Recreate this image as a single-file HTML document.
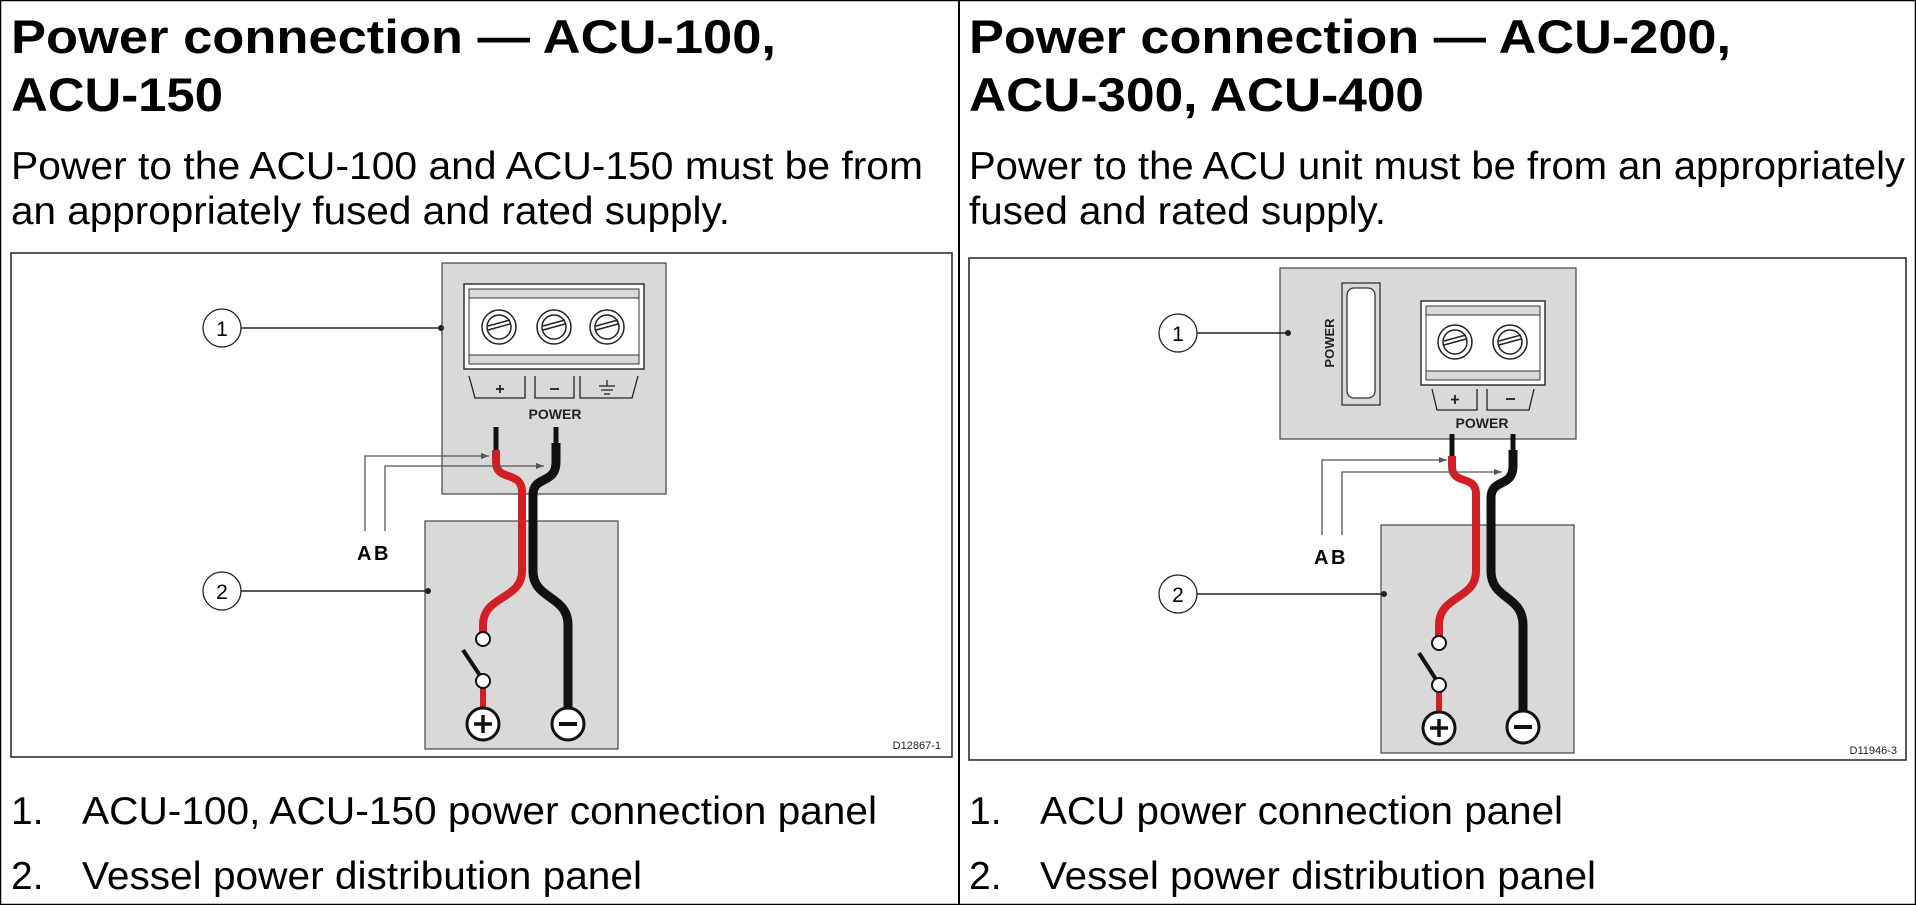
<!DOCTYPE html>
<html><head><meta charset="utf-8"><style>
html,body{margin:0;padding:0;background:#fff;}
svg{display:block;}
text{font-family:"Liberation Sans",Arial,sans-serif;}
</style></head><body>
<svg width="1916" height="905" viewBox="0 0 1916 905" xmlns="http://www.w3.org/2000/svg">
<defs>
<marker id="ar" markerWidth="8" markerHeight="6" refX="8" refY="3" orient="auto" markerUnits="userSpaceOnUse"><path d="M0,0 L8,3 L0,6 z" fill="#555"/></marker>
</defs>
<rect x="0.5" y="0.5" width="1915" height="904" fill="#fff" stroke="#000" stroke-width="1.5"/>
<line x1="959" y1="0" x2="959" y2="905" stroke="#000" stroke-width="2"/>

<!-- LEFT TEXT -->
<g fill="#000">
<text x="11" y="53" font-size="47" font-weight="bold" textLength="765" lengthAdjust="spacingAndGlyphs">Power connection — ACU-100,</text>
<text x="11" y="111" font-size="47" font-weight="bold" textLength="212" lengthAdjust="spacingAndGlyphs">ACU-150</text>
<text x="11" y="179" font-size="39" textLength="912" lengthAdjust="spacingAndGlyphs">Power to the ACU-100 and ACU-150 must be from</text>
<text x="11" y="224" font-size="39" textLength="719" lengthAdjust="spacingAndGlyphs">an appropriately fused and rated supply.</text>
<text x="11" y="824" font-size="39">1.</text>
<text x="82" y="824" font-size="39" textLength="795" lengthAdjust="spacingAndGlyphs">ACU-100, ACU-150 power connection panel</text>
<text x="11" y="889" font-size="39">2.</text>
<text x="82" y="889" font-size="39" textLength="560" lengthAdjust="spacingAndGlyphs">Vessel power distribution panel</text>
</g>

<!-- LEFT DIAGRAM -->
<rect x="11" y="253" width="941" height="504" fill="#fff" stroke="#222" stroke-width="1.5"/>
<rect x="442" y="263" width="224" height="231" fill="#d9d9d9" stroke="#444" stroke-width="1.2"/>
<rect x="464" y="284" width="180" height="85" fill="#fff" stroke="#333" stroke-width="1.5"/>
<rect x="469" y="289" width="170" height="75" fill="#d9d9d9" stroke="#333" stroke-width="1"/>
<rect x="469" y="298" width="170" height="57" fill="#fff" stroke="#333"/>
<g stroke="#222" stroke-width="1.5" fill="#fff">
<circle cx="499" cy="327" r="17"/><circle cx="499" cy="327" r="12"/>
<circle cx="554" cy="327" r="17"/><circle cx="554" cy="327" r="12"/>
<circle cx="607" cy="327" r="17"/><circle cx="607" cy="327" r="12"/>
<line x1="488" y1="330" x2="510" y2="324"/><line x1="488" y1="326" x2="510" y2="320"/>
<line x1="543" y1="330" x2="565" y2="324"/><line x1="543" y1="326" x2="565" y2="320"/>
<line x1="596" y1="330" x2="618" y2="324"/><line x1="596" y1="326" x2="618" y2="320"/>
</g>
<g stroke="#222" stroke-width="1.3" fill="none">
<polyline points="469,376 475,398 525,398 525,376"/>
<polyline points="535,376 535,398 574,398 574,376"/>
<polyline points="580,376 580,398 632,398 638,376"/>
<line x1="500" y1="385" x2="500" y2="393" stroke-width="1.8"/><line x1="496" y1="389" x2="504" y2="389" stroke-width="1.8"/>
<line x1="550" y1="389" x2="559" y2="389" stroke-width="1.8"/>
<line x1="607" y1="380" x2="607" y2="386"/><line x1="599" y1="386" x2="615" y2="386"/><line x1="601" y1="390" x2="613" y2="390"/><line x1="604" y1="394" x2="610" y2="394"/>
</g>
<text x="555" y="419" font-size="14" font-weight="bold" text-anchor="middle" fill="#222">POWER</text>
<rect x="425" y="521" width="193" height="228" fill="#d9d9d9" stroke="#444" stroke-width="1.2"/>
<circle cx="222" cy="328" r="19" fill="#fff" stroke="#222" stroke-width="1.3"/>
<text x="222" y="336" font-size="21" text-anchor="middle">1</text>
<line x1="241" y1="328" x2="441" y2="328" stroke="#222" stroke-width="1.5"/><circle cx="441" cy="328" r="3" fill="#222"/>
<circle cx="222" cy="591" r="19" fill="#fff" stroke="#222" stroke-width="1.3"/>
<text x="222" y="599" font-size="21" text-anchor="middle">2</text>
<line x1="241" y1="591" x2="428" y2="591" stroke="#222" stroke-width="1.5"/><circle cx="428" cy="591" r="3" fill="#222"/>
<line x1="496" y1="427" x2="496" y2="451" stroke="#111" stroke-width="5"/>
<path d="M496 450 L496 462 C496 482 522 470 522 492 L522 571 C522 600 483 595 483 625 L483 639" fill="none" stroke="#d21f26" stroke-width="8"/>
<line x1="556" y1="427" x2="556" y2="445" stroke="#111" stroke-width="5"/>
<path d="M556 443 L556 462 C556 485 533 475 533 495 L533 571 C533 600 568 595 568 625 L568 710" fill="none" stroke="#111" stroke-width="9"/>
<line x1="483" y1="688" x2="483" y2="710" stroke="#d21f26" stroke-width="6"/>
<line x1="463" y1="650" x2="481" y2="677" stroke="#111" stroke-width="4"/>
<circle cx="483" cy="639" r="7" fill="#fff" stroke="#111" stroke-width="2"/>
<circle cx="483" cy="681" r="7" fill="#fff" stroke="#111" stroke-width="2"/>
<circle cx="483" cy="724" r="16" fill="#fff" stroke="#111" stroke-width="3"/>
<path d="M474 724 H492 M483 715 V733" stroke="#111" stroke-width="3.5"/>
<circle cx="568" cy="724" r="16" fill="#fff" stroke="#111" stroke-width="3"/>
<path d="M559 724 H577" stroke="#111" stroke-width="4"/>
<polyline points="365,531 365,456 489,456" fill="none" stroke="#555" stroke-width="1.3" marker-end="url(#ar)"/>
<polyline points="385,531 385,466 544,466" fill="none" stroke="#555" stroke-width="1.3" marker-end="url(#ar)"/>
<text x="357" y="560" font-size="20" font-weight="bold">A</text>
<text x="374" y="560" font-size="20" font-weight="bold">B</text>
<text x="941" y="749" font-size="11" text-anchor="end" fill="#222">D12867-1</text>

<!-- RIGHT TEXT -->
<g fill="#000">
<text x="969" y="53" font-size="47" font-weight="bold" textLength="762" lengthAdjust="spacingAndGlyphs">Power connection — ACU-200,</text>
<text x="969" y="111" font-size="47" font-weight="bold" textLength="455" lengthAdjust="spacingAndGlyphs">ACU-300, ACU-400</text>
<text x="969" y="179" font-size="39" textLength="936" lengthAdjust="spacingAndGlyphs">Power to the ACU unit must be from an appropriately</text>
<text x="969" y="224" font-size="39" textLength="417" lengthAdjust="spacingAndGlyphs">fused and rated supply.</text>
<text x="969" y="824" font-size="39">1.</text>
<text x="1040" y="824" font-size="39" textLength="523" lengthAdjust="spacingAndGlyphs">ACU power connection panel</text>
<text x="969" y="889" font-size="39">2.</text>
<text x="1040" y="889" font-size="39" textLength="556" lengthAdjust="spacingAndGlyphs">Vessel power distribution panel</text>
</g>

<!-- RIGHT DIAGRAM -->
<rect x="969" y="258" width="937" height="502" fill="#fff" stroke="#222" stroke-width="1.5"/>
<rect x="1280" y="268" width="296" height="171" fill="#d9d9d9" stroke="#444" stroke-width="1.2"/>
<rect x="1342" y="283" width="38" height="122" fill="#d9d9d9" stroke="#333" stroke-width="1.3"/>
<rect x="1347" y="288" width="28" height="110" rx="7" fill="#fff" stroke="#333" stroke-width="1.3"/>
<text transform="translate(1334,343) rotate(-90)" font-size="13" font-weight="bold" text-anchor="middle" fill="#222">POWER</text>
<rect x="1421" y="301" width="124" height="84" fill="#fff" stroke="#333" stroke-width="1.5"/>
<rect x="1426" y="306" width="114" height="74" fill="#d9d9d9" stroke="#333"/>
<rect x="1426" y="315" width="114" height="56" fill="#fff" stroke="#333"/>
<g stroke="#222" stroke-width="1.5" fill="#fff">
<circle cx="1455" cy="342" r="17"/><circle cx="1455" cy="342" r="12"/>
<circle cx="1510" cy="342" r="17"/><circle cx="1510" cy="342" r="12"/>
<line x1="1444" y1="345" x2="1466" y2="339"/><line x1="1444" y1="341" x2="1466" y2="335"/>
<line x1="1499" y1="345" x2="1521" y2="339"/><line x1="1499" y1="341" x2="1521" y2="335"/>
</g>
<g stroke="#222" stroke-width="1.3" fill="none">
<polyline points="1432,389 1437,410 1477,410 1477,389"/>
<polyline points="1487,389 1487,410 1529,410 1534,389"/>
<path d="M1455 395 V404 M1451 399.5 H1459" stroke-width="1.8"/>
<path d="M1506 399 H1515" stroke-width="1.8"/>
</g>
<text x="1482" y="428" font-size="14" font-weight="bold" text-anchor="middle" fill="#222">POWER</text>
<rect x="1381" y="525" width="193" height="228" fill="#d9d9d9" stroke="#444" stroke-width="1.2"/>
<circle cx="1178" cy="333" r="19" fill="#fff" stroke="#222" stroke-width="1.3"/>
<text x="1178" y="341" font-size="21" text-anchor="middle">1</text>
<line x1="1197" y1="333" x2="1288" y2="333" stroke="#222" stroke-width="1.5"/><circle cx="1288" cy="333" r="3" fill="#222"/>
<circle cx="1178" cy="594" r="19" fill="#fff" stroke="#222" stroke-width="1.3"/>
<text x="1178" y="602" font-size="21" text-anchor="middle">2</text>
<line x1="1197" y1="594" x2="1384" y2="594" stroke="#222" stroke-width="1.5"/><circle cx="1384" cy="594" r="3" fill="#222"/>
<line x1="1452" y1="434" x2="1452" y2="457" stroke="#111" stroke-width="5"/>
<path d="M1452 456 L1452 466 C1452 486 1476 474 1476 494 L1476 571 C1476 600 1439 595 1439 625 L1439 643" fill="none" stroke="#d21f26" stroke-width="8"/>
<line x1="1513" y1="434" x2="1513" y2="452" stroke="#111" stroke-width="5"/>
<path d="M1513 450 L1513 466 C1513 488 1491 478 1491 498 L1491 571 C1491 600 1523 595 1523 625 L1523 712" fill="none" stroke="#111" stroke-width="9"/>
<line x1="1439" y1="692" x2="1439" y2="714" stroke="#d21f26" stroke-width="6"/>
<line x1="1419" y1="653" x2="1437" y2="681" stroke="#111" stroke-width="4"/>
<circle cx="1439" cy="643" r="7" fill="#fff" stroke="#111" stroke-width="2"/>
<circle cx="1439" cy="685" r="7" fill="#fff" stroke="#111" stroke-width="2"/>
<circle cx="1439" cy="728" r="16" fill="#fff" stroke="#111" stroke-width="3"/>
<path d="M1430 728 H1448 M1439 719 V737" stroke="#111" stroke-width="3.5"/>
<circle cx="1523" cy="727" r="16" fill="#fff" stroke="#111" stroke-width="3"/>
<path d="M1514 727 H1532" stroke="#111" stroke-width="4"/>
<polyline points="1322,535 1322,460 1447,460" fill="none" stroke="#555" stroke-width="1.3" marker-end="url(#ar)"/>
<polyline points="1342,535 1342,472 1502,472" fill="none" stroke="#555" stroke-width="1.3" marker-end="url(#ar)"/>
<text x="1314" y="564" font-size="20" font-weight="bold">A</text>
<text x="1331" y="564" font-size="20" font-weight="bold">B</text>
<text x="1897" y="754" font-size="11" text-anchor="end" fill="#222">D11946-3</text>
</svg>
</body></html>
